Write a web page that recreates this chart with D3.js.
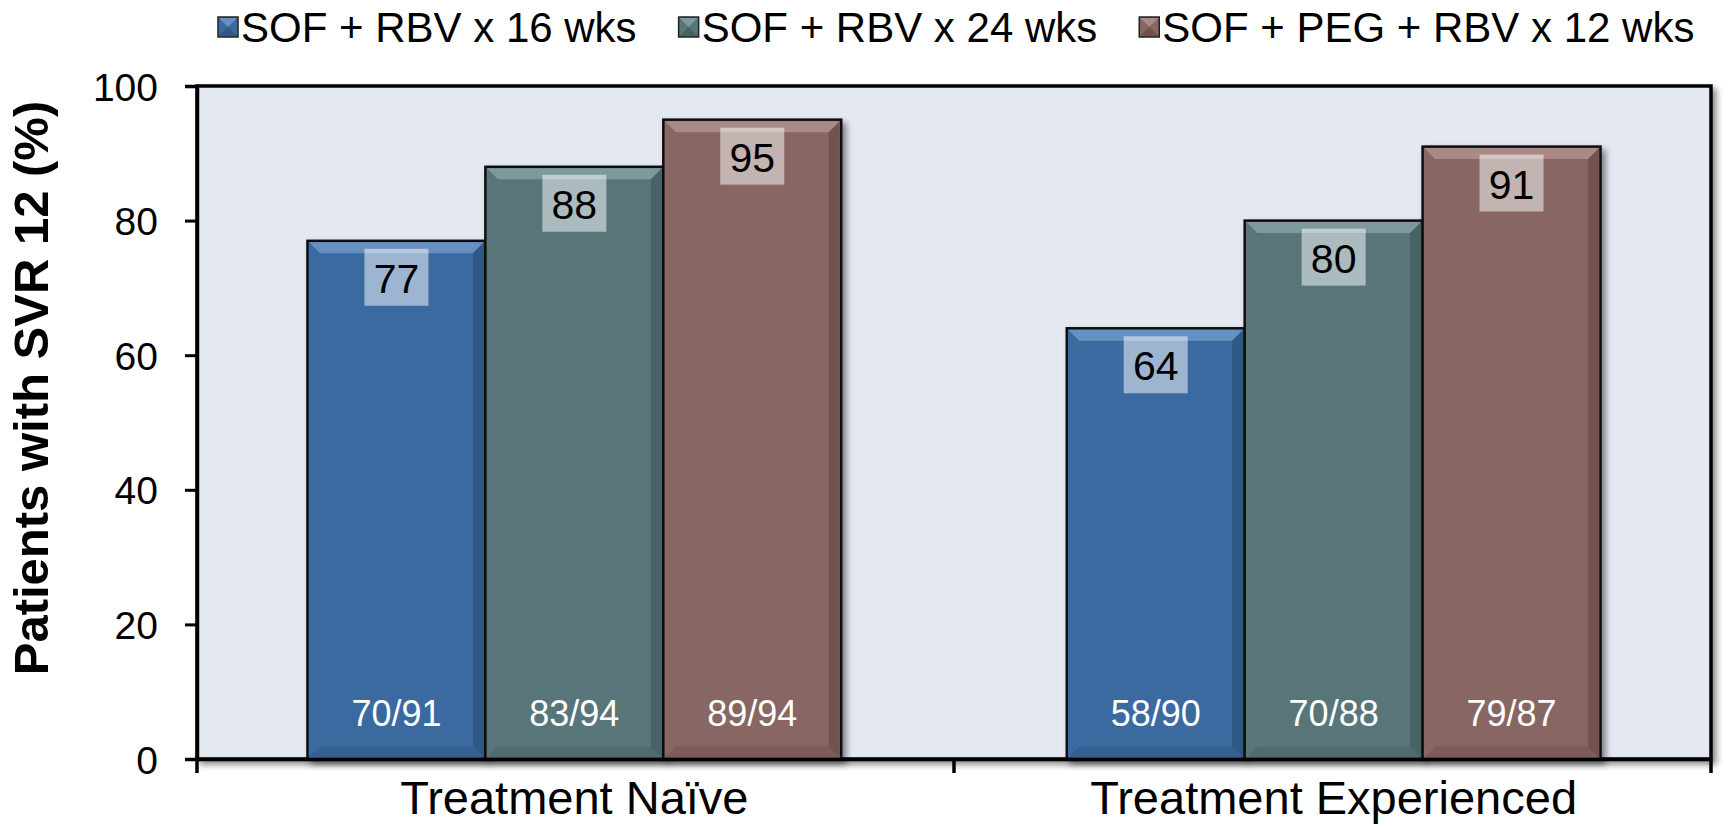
<!DOCTYPE html>
<html>
<head>
<meta charset="utf-8">
<script src="https://cdn.jsdelivr.net/npm/d3@7"></script>
<style>
  body { margin: 0; background: #fff; }
  svg { display: block; font-family: "Liberation Sans", Arial, sans-serif; }
</style>
</head>
<body>
<script>
// data
const groups = ["Treatment Naïve", "Treatment Experienced"];
const series = ["SOF + RBV x 16 wks", "SOF + RBV x 24 wks", "SOF + PEG + RBV x 12 wks"];
const sof16 = [77, 64];
const sof24 = [88, 80];
const sofPeg12 = [95, 91];
const n16 = ["70/91", "58/90"];
const n24 = ["83/94", "70/88"];
const nPeg12 = ["89/94", "79/87"];
const yTicks = [0, 20, 40, 60, 80, 100];

const colors = ["#3a6ba0", "#58767a", "#876664"];
const lighter = ["#6f9bcb", "#86a3a6", "#b39492"];
const darker = ["#244a73", "#3c5457", "#5f4543"];

const values = [sof16, sof24, sofPeg12];
const counts = [n16, n24, nPeg12];
const bars = [];
groups.forEach((g, gi) => {
  series.forEach((s, si) => {
    bars.push({ group: g, series: s, si: si, value: values[si][gi], n: counts[si][gi] });
  });
});

const W = 1728, H = 827;
const margin = { top: 86, right: 17, bottom: 68, left: 197 };
const width = W - margin.left - margin.right;
const height = H - margin.top - margin.bottom;

const svg = d3.select("body").append("svg")
  .attr("width", W)
  .attr("height", H);

const defs = svg.append("defs");
const sh = defs.append("filter").attr("id", "shadow")
  .attr("x", "-5%").attr("y", "-5%").attr("width", "115%").attr("height", "115%");
sh.append("feDropShadow").attr("dx", 4).attr("dy", 4).attr("stdDeviation", 3)
  .attr("flood-color", "#000").attr("flood-opacity", 0.45);

const g = svg.append("g").attr("transform", `translate(${margin.left},${margin.top})`);

const x0 = d3.scaleBand().domain(groups).range([0, width])
  .paddingInner(0.297).paddingOuter(0.1455);
const x1 = d3.scaleBand().domain(series).range([0, x0.bandwidth()]);
const y = d3.scaleLinear().domain([0, 100]).range([height, 0]);

// plot background
g.append("rect")
  .attr("width", width).attr("height", height)
  .attr("fill", "#e4e8f1")
  .attr("stroke", "#000").attr("stroke-width", 3.5)
  .attr("filter", "url(#shadow)");

// bars
const bev = 11;
const bar = g.selectAll(".bar").data(bars).join("g")
  .attr("class", "bar")
  .attr("transform", d => `translate(${x0(d.group) + x1(d.series)},${y(d.value)})`);

bar.append("rect")
  .attr("width", x1.bandwidth())
  .attr("height", d => height - y(d.value))
  .attr("fill", d => colors[d.si])
  .attr("stroke", "#111").attr("stroke-width", 2.5)
  .attr("filter", "url(#shadow)");

// bevel top
bar.append("path")
  .attr("d", d => {
    const w = x1.bandwidth();
    return `M1.5,1.5 L${w - 1.5},1.5 L${w - 1.5 - bev},${bev + 1.5} L${1.5 + bev},${bev + 1.5} Z`;
  })
  .attr("fill", d => lighter[d.si]).attr("opacity", 0.8);
// bevel right
bar.append("path")
  .attr("d", d => {
    const w = x1.bandwidth(), h = height - y(d.value);
    return `M${w - 1.5},1.5 L${w - 1.5},${h - 1.5} L${w - 1.5 - bev},${h - 1.5 - bev} L${w - 1.5 - bev},${bev + 1.5} Z`;
  })
  .attr("fill", d => darker[d.si]).attr("opacity", 0.55);
// bevel bottom
bar.append("path")
  .attr("d", d => {
    const w = x1.bandwidth(), h = height - y(d.value);
    return `M1.5,${h - 1.5} L${w - 1.5},${h - 1.5} L${w - 1.5 - bev},${h - 1.5 - bev} L${1.5 + bev},${h - 1.5 - bev} Z`;
  })
  .attr("fill", d => darker[d.si]).attr("opacity", 0.3);

// value label boxes
bar.append("rect")
  .attr("x", x1.bandwidth() / 2 - 32)
  .attr("y", 8)
  .attr("width", 64).attr("height", 57)
  .attr("fill", "#fff").attr("opacity", 0.5);

bar.append("text")
  .attr("x", x1.bandwidth() / 2)
  .attr("y", 52)
  .attr("text-anchor", "middle")
  .attr("font-size", 41)
  .attr("fill", "#000")
  .text(d => d.value);

bar.append("text")
  .attr("x", x1.bandwidth() / 2)
  .attr("y", d => y(0) - y(d.value) - 33)
  .attr("text-anchor", "middle")
  .attr("font-size", 36)
  .attr("fill", "#fff")
  .text(d => d.n);

// y axis
const yAxis = g.append("g")
  .call(d3.axisLeft(y).tickValues(yTicks).tickSize(12).tickPadding(27));
yAxis.select(".domain").attr("stroke-width", 3.5);
yAxis.selectAll(".tick line").attr("stroke-width", 3);
yAxis.selectAll("text").attr("font-size", 39).attr("fill", "#000")
  .attr("font-family", "'Liberation Sans', Arial, sans-serif").attr("dy", "0.36em");

// x axis
const xAxis = g.append("g").attr("transform", `translate(0,${height})`)
  .call(d3.axisBottom(x0).tickSize(0).tickPadding(0));
xAxis.select(".domain").attr("stroke-width", 3.5);
xAxis.selectAll("text").attr("font-size", 47).attr("fill", "#000")
  .attr("font-family", "'Liberation Sans', Arial, sans-serif")
  .attr("dy", 0).attr("y", 55);
xAxis.selectAll(".sep").data([0, width / 2, width]).join("line")
  .attr("class", "sep")
  .attr("x1", d => d).attr("x2", d => d)
  .attr("y1", 0).attr("y2", 14)
  .attr("stroke", "#000").attr("stroke-width", 3.5);

// y title
svg.append("text")
  .attr("transform", `translate(48,388) rotate(-90)`)
  .attr("text-anchor", "middle")
  .attr("font-size", 49)
  .attr("font-weight", "bold")
  .text("Patients with SVR 12 (%)");

// legend
const legend = svg.append("g").attr("transform", "translate(218,27)");
let lx = 0;
series.forEach((s, si) => {
  const item = legend.append("g").attr("transform", `translate(${lx},0)`);
  const sq = 20;
  item.append("rect").attr("x", 0).attr("y", -sq / 2).attr("width", sq).attr("height", sq)
    .attr("fill", colors[si]).attr("stroke", "#222").attr("stroke-width", 1.5);
  item.append("path")
    .attr("d", `M1,${-sq / 2 + 1} L${sq - 1},${-sq / 2 + 1} L${sq / 2},0 Z`)
    .attr("fill", lighter[si]).attr("opacity", 0.8);
  item.append("path")
    .attr("d", `M1,${sq / 2 - 1} L${sq - 1},${sq / 2 - 1} L${sq / 2},0 Z`)
    .attr("fill", darker[si]).attr("opacity", 0.6);
  const t = item.append("text")
    .attr("x", sq + 3).attr("y", 0).attr("dy", "0.36em")
    .attr("font-size", 42)
    .text(s);
  lx += sq + 3 + t.node().getComputedTextLength() + 42;
});
</script>
</body>
</html>
